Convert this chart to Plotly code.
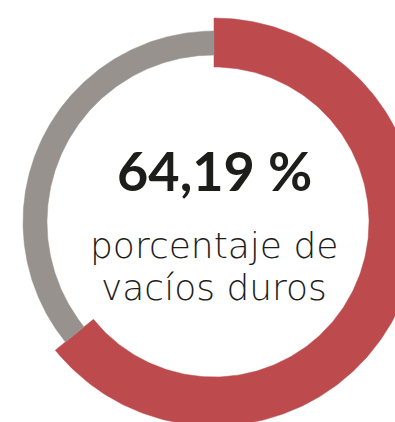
import numpy as np
import plotly.graph_objects as go

# Share of hard voids vs. remainder (percent)
categories = ["vacíos duros", "resto"]
values = [64.19, 35.81]
value_label = "64,19 %"
caption_lines = ["porcentaje de", "vacíos duros"]

colors = ["#BD4B4D", "#98928F"]
# ring radii (outer, inner) in pixel-sized axis units
radii = [(204, 155), (191, 167)]

W, H = 395, 422
CX, CY = 214, 222  # ring centre in pixels from the top-left corner


def ring_segment(a0, a1, r_out, r_in, n=240):
    """Closed polygon for a ring segment; angles in degrees clockwise from 12 o'clock."""
    a = np.radians(np.linspace(a0, a1, n))
    xo, yo = r_out * np.sin(a), r_out * np.cos(a)
    xi, yi = r_in * np.sin(a[::-1]), r_in * np.cos(a[::-1])
    x = np.concatenate([xo, xi, xo[:1]])
    y = np.concatenate([yo, yi, yo[:1]])
    return x, y


fig = go.Figure()
total = sum(values)
start = 0.0
for cat, val, col, (r_out, r_in) in zip(categories, values, colors, radii):
    sweep = 360.0 * val / total
    x, y = ring_segment(start, start + sweep, r_out, r_in)
    fig.add_trace(go.Scatter(
        x=x, y=y, mode="lines", fill="toself",
        fillcolor=col, line=dict(color=col, width=0.5),
        name=cat, hoverinfo="name", showlegend=False,
    ))
    start += sweep

fig.add_annotation(
    x=0, y=CY - 170, xref="x", yref="y", text=value_label, showarrow=False,
    font=dict(family="Lato", size=54, color="#1D1D1B", weight="bold"),
    xanchor="center", yanchor="middle",
)
for i, line in enumerate(caption_lines):
    fig.add_annotation(
        x=0, y=CY - (245 + 42 * i), xref="x", yref="y", text=line, showarrow=False,
        font=dict(family="DejaVu Sans", size=36, color="#1D1D1B", weight=200),
        xanchor="center", yanchor="middle",
    )

fig.update_xaxes(range=[-CX, W - CX], visible=False, fixedrange=True)
fig.update_yaxes(range=[CY - H, CY], visible=False, fixedrange=True)
fig.update_layout(
    width=W, height=H, margin=dict(l=0, r=0, t=0, b=0),
    paper_bgcolor="white", plot_bgcolor="white",
)

fig.write_html("out.html")
